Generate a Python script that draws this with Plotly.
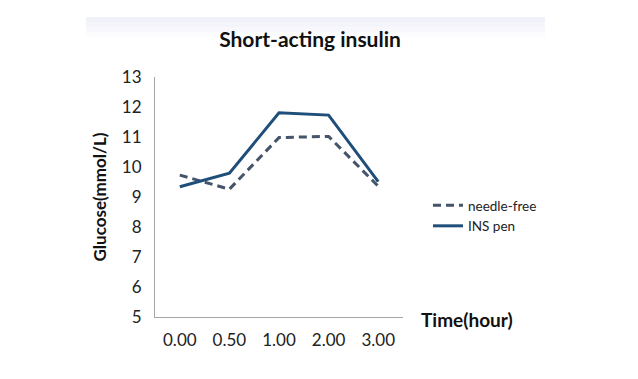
import plotly.graph_objects as go

categories = ["0.00", "0.50", "1.00", "2.00", "3.00"]
needle_free = [9.73, 9.26, 10.98, 11.02, 9.36]
ins_pen = [9.34, 9.79, 11.81, 11.73, 9.51]
y_ticks = [5, 6, 7, 8, 9, 10, 11, 12, 13]

FONT = "Lato"
W, H = 630, 371          # page body has an 8px margin
OFF = 8
PL, PR, PT, PB = 155 - OFF, 403 - OFF, 77 - OFF, 317 - OFF   # plot area in figure px
PW, PH = PR - PL, PB - PT


def px_x(x):
    return (x - OFF - PL) / PW


def px_y(y):
    return (PB - (y - OFF)) / PH


fig = go.Figure()
fig.add_trace(go.Scatter(
    x=categories, y=needle_free, name="needle-free", mode="lines",
    line=dict(color="#44546A", width=3, dash="8px,5px"),
))
fig.add_trace(go.Scatter(
    x=categories, y=ins_pen, name="INS pen", mode="lines",
    line=dict(color="#1F4E79", width=3),
))

# faint header band
for i, c in enumerate(["#F1F2F9", "#F4F5FA", "#F8F8FC", "#FCFCFE"]):
    fig.add_shape(type="rect", xref="paper", yref="paper",
                  x0=px_x(86), x1=px_x(545),
                  y0=px_y(17 + 5 * (i + 1)), y1=px_y(17 + 5 * i),
                  fillcolor=c, line=dict(width=0), layer="below")

fig.add_annotation(text="<b>Time(hour)</b>", xref="paper", yref="paper",
                   x=px_x(419), y=px_y(319), xanchor="left", yanchor="middle",
                   showarrow=False, font=dict(family=FONT, size=19, color="#111111"))

fig.update_layout(
    width=W, height=H,
    margin=dict(l=PL, r=W - PR, t=PT, b=H - PB),
    paper_bgcolor="white", plot_bgcolor="white",
    title=dict(text="<b>Short-acting insulin</b>", x=(310 - OFF) / W, xanchor="center",
               y=1 - (40 - OFF) / H, yanchor="middle", yref="container",
               font=dict(family=FONT, size=21, color="#111111")),
    showlegend=True,
    legend=dict(x=px_x(428), xanchor="left", y=px_y(216), yanchor="middle",
                font=dict(family=FONT, size=13.5, color="#222222"),
                tracegroupgap=0, itemwidth=30, bgcolor="rgba(0,0,0,0)"),
    xaxis=dict(type="category", range=[-0.5, 4.5], showgrid=False, zeroline=False,
               showline=True, linecolor="#A6A6A6", linewidth=1, ticks="",
               tickfont=dict(family=FONT, size=17, color="#222222"),
               ticklabelstandoff=8),
    yaxis=dict(range=[5, 13], tickvals=y_ticks, showgrid=False, zeroline=False,
               showline=True, linecolor="#A6A6A6", linewidth=1, ticks="",
               tickfont=dict(family=FONT, size=17, color="#222222"),
               ticklabelstandoff=9,
               title=dict(text="<b>Glucose(mmol/L)</b>", standoff=10,
                          font=dict(family=FONT, size=17, color="#111111"))),
)

fig.write_html("out.html")
